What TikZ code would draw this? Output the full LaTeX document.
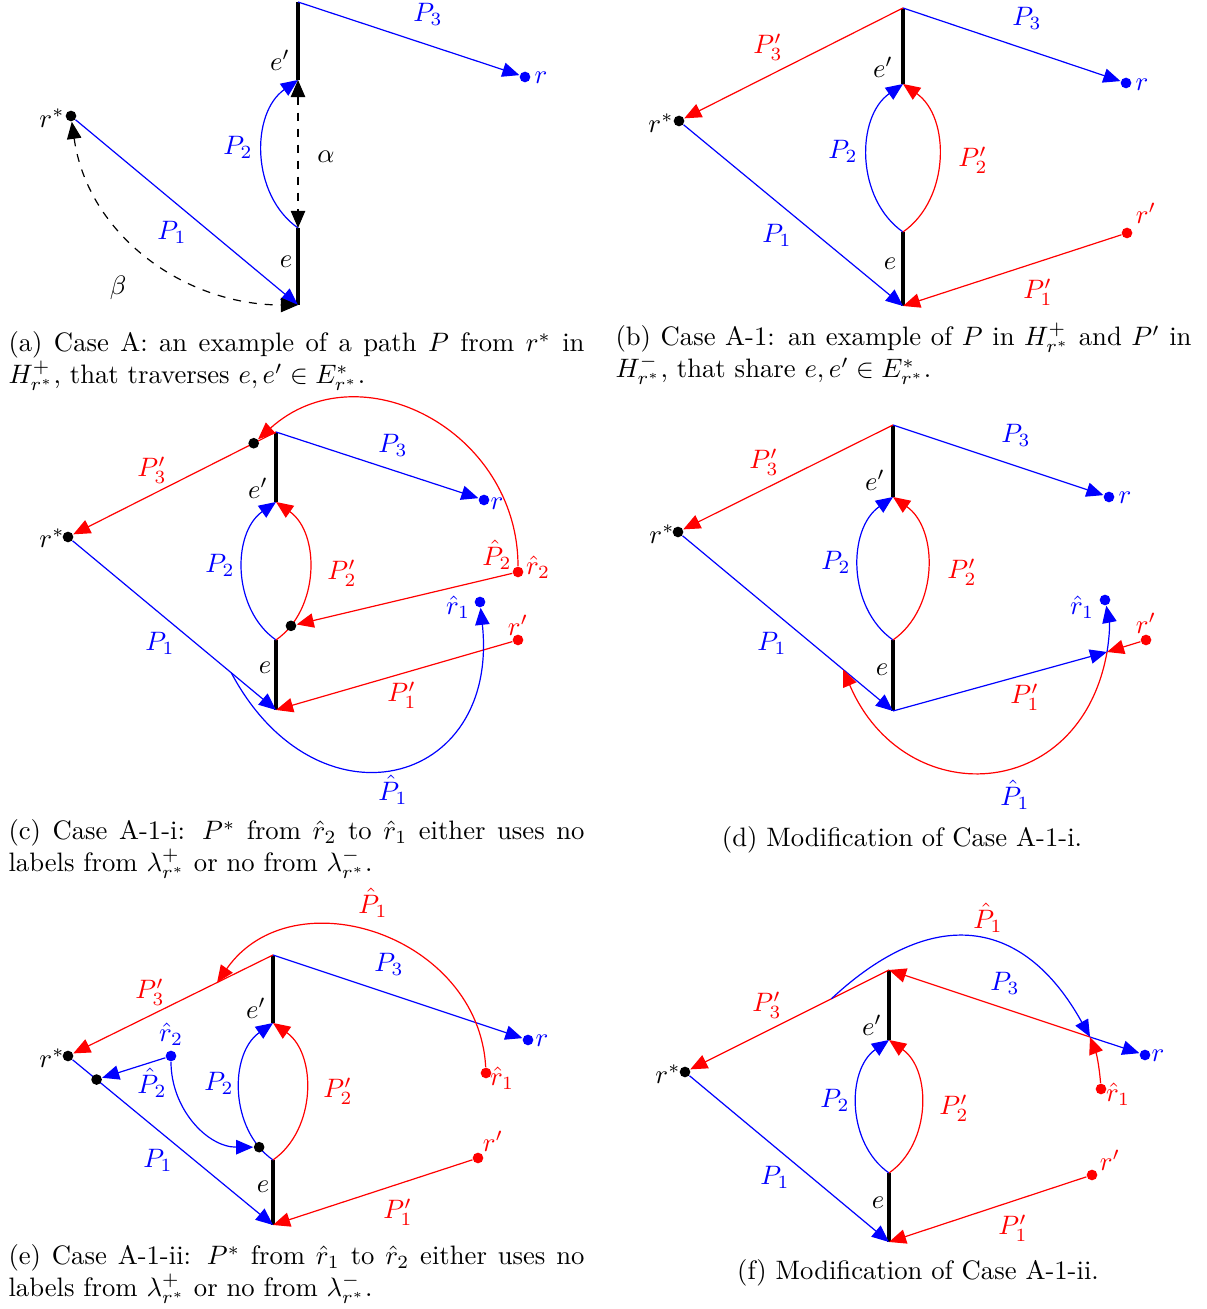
\documentclass[tikz,border=0pt]{standalone}
\usetikzlibrary{arrows.meta}
\begin{document}
\begin{tikzpicture}[x=0.375pt,y=0.375pt,
  pth/.style={line width=0.45pt},
  ar/.style={-{Triangle[length=6.4pt,width=5.4pt]}},
  dar/.style={{Triangle[length=6.4pt,width=5.4pt]}-{Triangle[length=6.4pt,width=5.4pt]},dashed,black,line width=0.45pt},
  thk/.style={line width=1.2pt,black},
  dotnode/.style={circle,inner sep=0pt,minimum size=4pt},
  lb/.style={inner sep=0pt},
  captext/.style={inner sep=0pt,text width=216pt,align=justify,anchor=base west}]
\useasboundingbox (0,0) rectangle (1206,1309);

% ---------------- (a)
\coordinate (aT) at (298,1307);
\coordinate (aU) at (298,1229);
\coordinate (aL) at (298,1081);
\coordinate (aB) at (298,1004);
\node[dotnode,fill=black] (ars) at (71,1193) {};
\node[dotnode,fill=blue] (ar) at (525,1232) {};
\draw[thk] (aT) -- (aU);
\draw[thk] (aL) -- (aB);
\draw[pth,blue,ar] (ars) -- (aB);
\draw[pth,blue,ar] (aT) -- (ar);
\draw[pth,blue,ar] (aL) to[bend left=55] (aU);
\draw[dar] (aU) -- (aL);
\draw[dar] (ars) to[out=-82,in=180] (aB);
\node[lb] (a-lrs) at (52,1191) {$r^*$};
\node[lb,blue] (a-lr) at (541,1231) {$r$};
\node[lb,blue] (a-lP3) at (428,1295) {$P_3$};
\node[lb] (a-le2) at (280,1249) {$e'$};
\node[lb,blue] (a-lP2) at (238,1162) {$P_2$};
\node[lb] (a-lal) at (326,1152) {$\alpha$};
\node[lb,blue] (a-lP1) at (172,1077) {$P_1$};
\node[lb] (a-le) at (286,1047) {$e$};
\node[lb] (a-lbe) at (118,1021) {$\beta$};
\node[captext] (capa) at (8,957) {(a) Case A: an example of a path $P$ from $r^*$ in\linebreak $H^+_{r^*}$, that traverses $e,e'\in E^*_{r^*}$.};

% ---------------- (b)
\coordinate (bT) at (903,1301);
\coordinate (bU) at (903,1225);
\coordinate (bL) at (903,1077);
\coordinate (bB) at (903,1003);
\node[dotnode,fill=black] (brs) at (679,1188) {};
\node[dotnode,fill=blue] (br) at (1126,1226) {};
\node[dotnode,fill=red] (brp) at (1127,1076) {};
\draw[thk] (bT) -- (bU);
\draw[thk] (bL) -- (bB);
\draw[pth,blue,ar] (brs) -- (bB);
\draw[pth,blue,ar] (bT) -- (br);
\draw[pth,red,ar] (bT) -- (brs);
\draw[pth,blue,ar] (bL) to[bend left=55] (bU);
\draw[pth,red,ar] (bL) to[bend right=55] (bU);
\draw[pth,red,ar] (brp) -- (bB);
\node[lb] (b-lrs) at (661,1186) {$r^*$};
\node[lb,red] (b-lP3p) at (768,1262) {$P'_3$};
\node[lb,blue] (b-lP3) at (1027,1291) {$P_3$};
\node[lb] (b-le2) at (883,1242) {$e'$};
\node[lb,blue] (b-lr) at (1142,1224) {$r$};
\node[lb,blue] (b-lP2) at (843,1158) {$P_2$};
\node[lb,red] (b-lP2p) at (973,1149) {$P'_2$};
\node[lb,red] (b-lrp) at (1146,1096) {$r'$};
\node[lb,blue] (b-lP1) at (777,1074) {$P_1$};
\node[lb] (b-le) at (890,1045) {$e$};
\node[lb,red] (b-lP1p) at (1038,1017) {$P'_1$};
\node[captext] (capb) at (615,963) {(b) Case A-1: an example of $P$ in $H^+_{r^*}$ and $P'$ in\linebreak $H^-_{r^*}$, that share $e,e'\in E^*_{r^*}$.};

% ---------------- (c)
\coordinate (cT) at (276,877);
\coordinate (cU) at (276,807);
\coordinate (cL) at (276,669);
\coordinate (cB) at (276,599);
\node[dotnode,fill=black] (crs) at (68,772) {};
\node[dotnode,fill=blue] (cr) at (484,809) {};
\node[dotnode,fill=red] (crh2) at (518,737) {};
\node[dotnode,fill=blue] (crh1) at (480,707) {};
\node[dotnode,fill=red] (crp) at (518,669) {};
\draw[thk] (cT) -- (cU);
\draw[thk] (cL) -- (cB);
\draw[pth,red,ar] (cT) -- coordinate[pos=0.11] (cd1) (crs);
\draw[pth,blue,ar] (cT) -- (cr);
\draw[pth,blue,ar] (crs) -- coordinate[pos=0.78] (cp1) (cB);
\draw[pth,blue,ar] (cL) to[bend left=55] (cU);
\draw[pth,red,ar] (cL) to[bend right=55] coordinate[pos=0.13] (cd2) (cU);
\draw[pth,red,ar] (crp) -- (cB);
\node[dotnode,fill=black] (cD1) at (cd1) {};
\node[dotnode,fill=black] (cD2) at (cd2) {};
\draw[pth,red,ar] (crh2) -- (cD2);
\draw[pth,red,ar] (crh2) to[out=90,in=42,looseness=1.2] (cD1);
\draw[pth,blue,ar] (cp1) to[out=-62,in=-84,looseness=1.8] (crh1);
\node[lb,red] (c-lP3p) at (152,839) {$P'_3$};
\node[lb,blue] (c-lP3) at (393,864) {$P_3$};
\node[lb] (c-le2) at (258,821) {$e'$};
\node[lb,blue] (c-lr) at (497,805) {$r$};
\node[lb] (c-lrs) at (52,771) {$r^*$};
\node[lb,blue] (c-lP2) at (220,744) {$P_2$};
\node[lb,red] (c-lP2p) at (342,736) {$P'_2$};
\node[lb,red] (c-lPh2) at (497,754) {$\hat{P}_2$};
\node[lb,red] (c-lrh2) at (538,742) {$\hat{r}_2$};
\node[lb,blue] (c-lrh1) at (458,702) {$\hat{r}_1$};
\node[lb,red] (c-lrp) at (518,684) {$r'$};
\node[lb,blue] (c-lP1) at (160,666) {$P_1$};
\node[lb] (c-le) at (265,641) {$e$};
\node[lb,red] (c-lP1p) at (402,614) {$P'_1$};
\node[lb,blue] (c-lPh1) at (393,519) {$\hat{P}_1$};
\node[captext] (capc) at (8,469) {(c) Case A-1-i: $P^*$ from $\hat{r}_2$ to $\hat{r}_1$ either uses no\linebreak labels from $\lambda^+_{r^*}$ or no from $\lambda^-_{r^*}$.};

% ---------------- (d)
\coordinate (dT) at (893,884);
\coordinate (dU) at (893,812);
\coordinate (dL) at (893,669);
\coordinate (dB) at (893,598);
\coordinate (dJ) at (1107,657);
\node[dotnode,fill=black] (drs) at (678,777) {};
\node[dotnode,fill=blue] (dr) at (1109,812) {};
\node[dotnode,fill=blue] (drh1) at (1105,709) {};
\node[dotnode,fill=red] (drp) at (1146,669) {};
\draw[thk] (dT) -- (dU);
\draw[thk] (dL) -- (dB);
\draw[pth,red,ar] (dT) -- (drs);
\draw[pth,blue,ar] (dT) -- (dr);
\draw[pth,blue,ar] (drs) -- coordinate[pos=0.763] (dp1) (dB);
\draw[pth,blue,ar] (dL) to[bend left=55] (dU);
\draw[pth,red,ar] (dL) to[bend right=55] (dU);
\draw[pth,blue,ar] (dB) -- (dJ);
\draw[pth,red,ar] (drp) -- (dJ);
\draw[pth,blue,ar] (dJ) to[bend right=10] (drh1);
\draw[pth,red,ar] (dJ) to[out=-100,in=-67,looseness=1.5] (dp1);
\node[lb,red] (d-lP3p) at (764,847) {$P'_3$};
\node[lb,blue] (d-lP3) at (1016,874) {$P_3$};
\node[lb] (d-le2) at (875,829) {$e'$};
\node[lb,blue] (d-lr) at (1125,811) {$r$};
\node[lb] (d-lrs) at (662,775) {$r^*$};
\node[lb,blue] (d-lP2) at (836,747) {$P_2$};
\node[lb,red] (d-lP2p) at (962,737) {$P'_2$};
\node[lb,blue] (d-lrh1) at (1082,702) {$\hat{r}_1$};
\node[lb,red] (d-lrp) at (1146,686) {$r'$};
\node[lb,blue] (d-lP1) at (772,666) {$P_1$};
\node[lb] (d-le) at (882,639) {$e$};
\node[lb,red] (d-lP1p) at (1025,612) {$P'_1$};
\node[lb,blue] (d-lPh1) at (1015,514) {$\hat{P}_1$};
\node[inner sep=0pt,anchor=base] (capd) at (902,462) {(d) Modification of Case A-1-i.};

% ---------------- (e)
\coordinate (eT) at (273,354);
\coordinate (eU) at (273,286);
\coordinate (eL) at (273,149);
\coordinate (eB) at (273,84);
\node[dotnode,fill=black] (ers) at (68,253) {};
\node[dotnode,fill=blue] (er) at (528,269) {};
\node[dotnode,fill=blue] (erh2) at (171,253) {};
\node[dotnode,fill=red] (erh1) at (486,236) {};
\node[dotnode,fill=red] (erp) at (478,151) {};
\draw[thk] (eT) -- (eU);
\draw[thk] (eL) -- (eB);
\draw[pth,red,ar] (eT) -- coordinate[pos=0.28] (ep3) (ers);
\draw[pth,blue,ar] (eT) -- (er);
\draw[pth,blue,ar] (ers) -- coordinate[pos=0.12] (ed1) (eB);
\draw[pth,blue,ar] (eL) to[bend left=55] coordinate[pos=0.12] (ed2) (eU);
\draw[pth,red,ar] (eL) to[bend right=55] (eU);
\draw[pth,red,ar] (erp) -- (eB);
\node[dotnode,fill=black] (eD1) at (ed1) {};
\node[dotnode,fill=black] (eD2) at (ed2) {};
\draw[pth,blue,ar] (erh2) -- (eD1);
\draw[pth,blue,ar] (erh2) to[out=-90,in=180] (eD2);
\draw[pth,red,ar] (erh1) to[out=93,in=55,looseness=1.2] (ep3);
\node[lb,red] (e-lPh1) at (373,406) {$\hat{P}_1$};
\node[lb,red] (e-lP3p) at (150,317) {$P'_3$};
\node[lb,blue] (e-lP3) at (389,345) {$P_3$};
\node[lb] (e-le2) at (256,301) {$e'$};
\node[lb,blue] (e-lrh2) at (171,275) {$\hat{r}_2$};
\node[lb,blue] (e-lr) at (542,268) {$r$};
\node[lb] (e-lrs) at (52,251) {$r^*$};
\node[lb,red] (e-lrh1) at (502,231) {$\hat{r}_1$};
\node[lb,blue] (e-lPh2) at (152,226) {$\hat{P}_2$};
\node[lb,blue] (e-lP2) at (219,226) {$P_2$};
\node[lb,red] (e-lP2p) at (338,218) {$P'_2$};
\node[lb,red] (e-lrp) at (493,168) {$r'$};
\node[lb,blue] (e-lP1) at (158,149) {$P_1$};
\node[lb] (e-le) at (263,122) {$e$};
\node[lb,red] (e-lP1p) at (398,97) {$P'_1$};
\node[captext] (cape) at (8,44) {(e) Case A-1-ii: $P^*$ from $\hat{r}_1$ to $\hat{r}_2$ either uses no\linebreak labels from $\lambda^+_{r^*}$ or no from $\lambda^-_{r^*}$.};

% ---------------- (f)
\coordinate (fT) at (889,339);
\coordinate (fU) at (889,269);
\coordinate (fL) at (889,136);
\coordinate (fB) at (889,67);
\coordinate (fK) at (1090,272);
\node[dotnode,fill=black] (frs) at (685,237) {};
\node[dotnode,fill=blue] (fr) at (1145,254) {};
\node[dotnode,fill=red] (frh1) at (1101,220) {};
\node[dotnode,fill=red] (frp) at (1092,134) {};
\draw[thk] (fT) -- (fU);
\draw[thk] (fL) -- (fB);
\draw[pth,red,ar] (fT) -- coordinate[pos=0.29] (fp3) (frs);
\draw[pth,red,ar] (fK) -- (fT);
\draw[pth,blue,ar] (fK) -- (fr);
\draw[pth,blue,ar] (frs) -- (fB);
\draw[pth,blue,ar] (fL) to[bend left=55] (fU);
\draw[pth,red,ar] (fL) to[bend right=55] (fU);
\draw[pth,red,ar] (frp) -- (fB);
\draw[pth,blue,ar] (fp3) to[out=43,in=119,looseness=1.35] (fK);
\draw[pth,red,ar] (frh1) to[bend right=8] (fK);
\node[lb,red] (f-lPh1) at (988,391) {$\hat{P}_1$};
\node[lb,red] (f-lP3p) at (767,304) {$P'_3$};
\node[lb,blue] (f-lP3) at (1005,326) {$P_3$};
\node[lb] (f-le2) at (872,284) {$e'$};
\node[lb,blue] (f-lr) at (1158,253) {$r$};
\node[lb] (f-lrs) at (668,235) {$r^*$};
\node[lb,red] (f-lrh1) at (1118,215) {$\hat{r}_1$};
\node[lb,blue] (f-lP2) at (835,209) {$P_2$};
\node[lb,red] (f-lP2p) at (954,201) {$P'_2$};
\node[lb,red] (f-lrp) at (1110,149) {$r'$};
\node[lb,blue] (f-lP1) at (775,132) {$P_1$};
\node[lb] (f-le) at (878,106) {$e$};
\node[lb,red] (f-lP1p) at (1013,81) {$P'_1$};
\node[inner sep=0pt,anchor=base] (capf) at (918,29) {(f) Modification of Case A-1-ii.};
\end{tikzpicture}
\end{document}
